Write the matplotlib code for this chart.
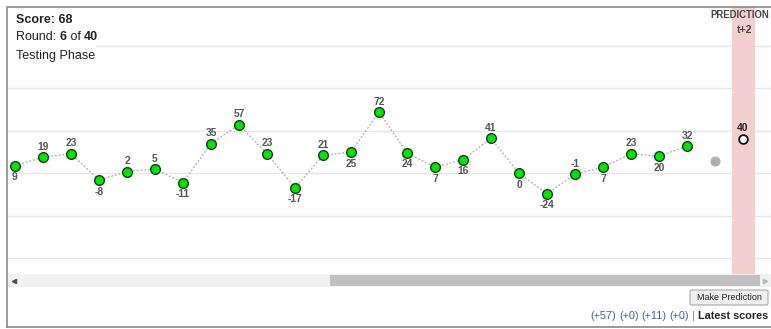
import matplotlib.pyplot as plt
from matplotlib.patches import Rectangle, FancyBboxPatch

plt.rcParams['font.family'] = ['Liberation Sans', 'DejaVu Sans']

# round scores shown on the timeline
scores = [9, 19, 23, -8, 2, 5, -11, 35, 57, 23, -17, 21, 25, 72, 24, 7, 16, 41, 0, -24, -1, 7, 23, 20, 32]
label_side = ['below', 'above', 'above', 'below', 'above', 'above', 'below', 'above', 'above', 'above',
              'below', 'above', 'below', 'above', 'below', 'below', 'below', 'above', 'below', 'below',
              'above', 'below', 'above', 'below', 'above']
pending_value = 15      # grey dot, not yet revealed
prediction_value = 40   # user's guess at t+2
grid_values = [150, 100, 50, 0, -50, -100]
recent_scores = ['(+57)', '(+0)', '(+11)', '(+0)']

W, H = 771, 329
fig = plt.figure(figsize=(W / 100, H / 100), dpi=100)


def fx(px):
    return px / W


def fy(py):
    return 1 - py / H


# chart area
ax = fig.add_axes([fx(8), fy(274), (771 - 8) / W, (274 - 7) / H])
ax.set_xlim(-0.25, 27)
ax.set_ylim(-118.5, 195.6)
for s in ax.spines.values():
    s.set_visible(False)
ax.set_xticks([])
ax.set_yticks([])
for g in grid_values:
    ax.axhline(g, color='#e8e8e8', lw=1, zorder=0)

n = len(scores)
xs = list(range(n))
pred_x = n + 1
ax.axvspan(pred_x - 0.41, pred_x + 0.42, color='#f3cfcf', lw=0, zorder=1)

ax.plot(xs, scores, color='#aaaaaa', lw=0.9, ls=(0, (1.5, 1.5)), zorder=2)
ax.plot(xs, scores, 'o', ms=7, mfc='#00e600', mec='#1a3a1a', mew=1.0, zorder=3)
for x, v, side in zip(xs, scores, label_side):
    off = 10.5 if side == 'above' else -11.5
    ax.annotate(str(v), (x, v), xytext=(0, off), textcoords='offset pixels',
                ha='center', va='center', fontsize=7.4, fontweight='bold', color='#555555')

ax.plot([n], [pending_value], 'o', ms=6.3, mfc='#b0b0b0', mec='#b0b0b0', zorder=3)
ax.plot([pred_x], [prediction_value], 'o', ms=6.3, mfc='white', mec='#111111', mew=1.3, zorder=3)
ax.annotate(str(prediction_value), (pred_x, prediction_value), xytext=(0, 11), textcoords='offset pixels',
            ha='center', va='center', fontsize=7.4, fontweight='bold', color='#222222')

# page furniture drawn in pixel coordinates
ui = fig.add_axes([0, 0, 1, 1], zorder=5)
ui.set_xlim(0, W)
ui.set_ylim(H, 0)
ui.axis('off')
ui.patch.set_alpha(0)

ui.add_patch(Rectangle((8, 8), 88, 55, facecolor='white', edgecolor='none'))
ui.plot([7, 7, 771], [327, 7, 7], color='#8a8a8a', lw=1.2)
ui.plot([7, 771], [327, 327], color='#8a8a8a', lw=1.2)

ui.text(769, 15, 'PREDICTION', ha='right', va='center', fontsize=6.9, fontweight='bold', color='#444444')
ui.text(745, 30, 't+2', ha='center', va='center', fontsize=7.6, fontweight='bold', color='#444444')

# scrollbar
ui.add_patch(Rectangle((8, 274), 763, 13, facecolor='#f1f1f1', edgecolor='none'))
ui.add_patch(Rectangle((330, 275), 430, 11, facecolor='#c1c1c1', edgecolor='none'))
ui.plot([14], [280.5], marker='<', ms=3, color='#505050')
ui.plot([765], [280.5], marker='>', ms=3, color='#b5b5b5')

# button
ui.add_patch(FancyBboxPatch((690, 290), 78, 15, boxstyle='round,pad=0,rounding_size=1.5',
                            facecolor='#efefef', edgecolor='#a8a8a8', lw=0.8))
ui.text(729, 297.8, 'Make Prediction', ha='center', va='center', fontsize=6.5, color='#222222')

fig.canvas.draw()
renderer = fig.canvas.get_renderer()


def place(pieces, x, y, align='left', size=9):
    # pieces laid out one after another, measured with the renderer
    order = pieces if align == 'left' else pieces[::-1]
    for txt, weight, color in order:
        t = ui.text(x, y, txt, ha=align, va='center', fontsize=size, fontweight=weight, color=color)
        w = t.get_window_extent(renderer).width
        x = x + w if align == 'left' else x - w


place([('Score: 68', 'bold', '#222222')], 16, 20)
place([('Round: ', 'normal', '#222222'), ('6', 'bold', '#222222'), (' of ', 'normal', '#222222'),
       ('40', 'bold', '#222222')], 16, 37.5)
place([('Testing Phase', 'normal', '#222222')], 16, 56)

bottom = []
for s in recent_scores:
    bottom.append((s, 'normal', '#3d5fa6'))
    bottom.append((' ', 'normal', '#222222'))
bottom += [('| ', 'normal', '#888888'), ('Latest scores', 'bold', '#222222')]
place(bottom, 768, 316, align='right', size=7.8)

fig.savefig('out.png', dpi=100)
